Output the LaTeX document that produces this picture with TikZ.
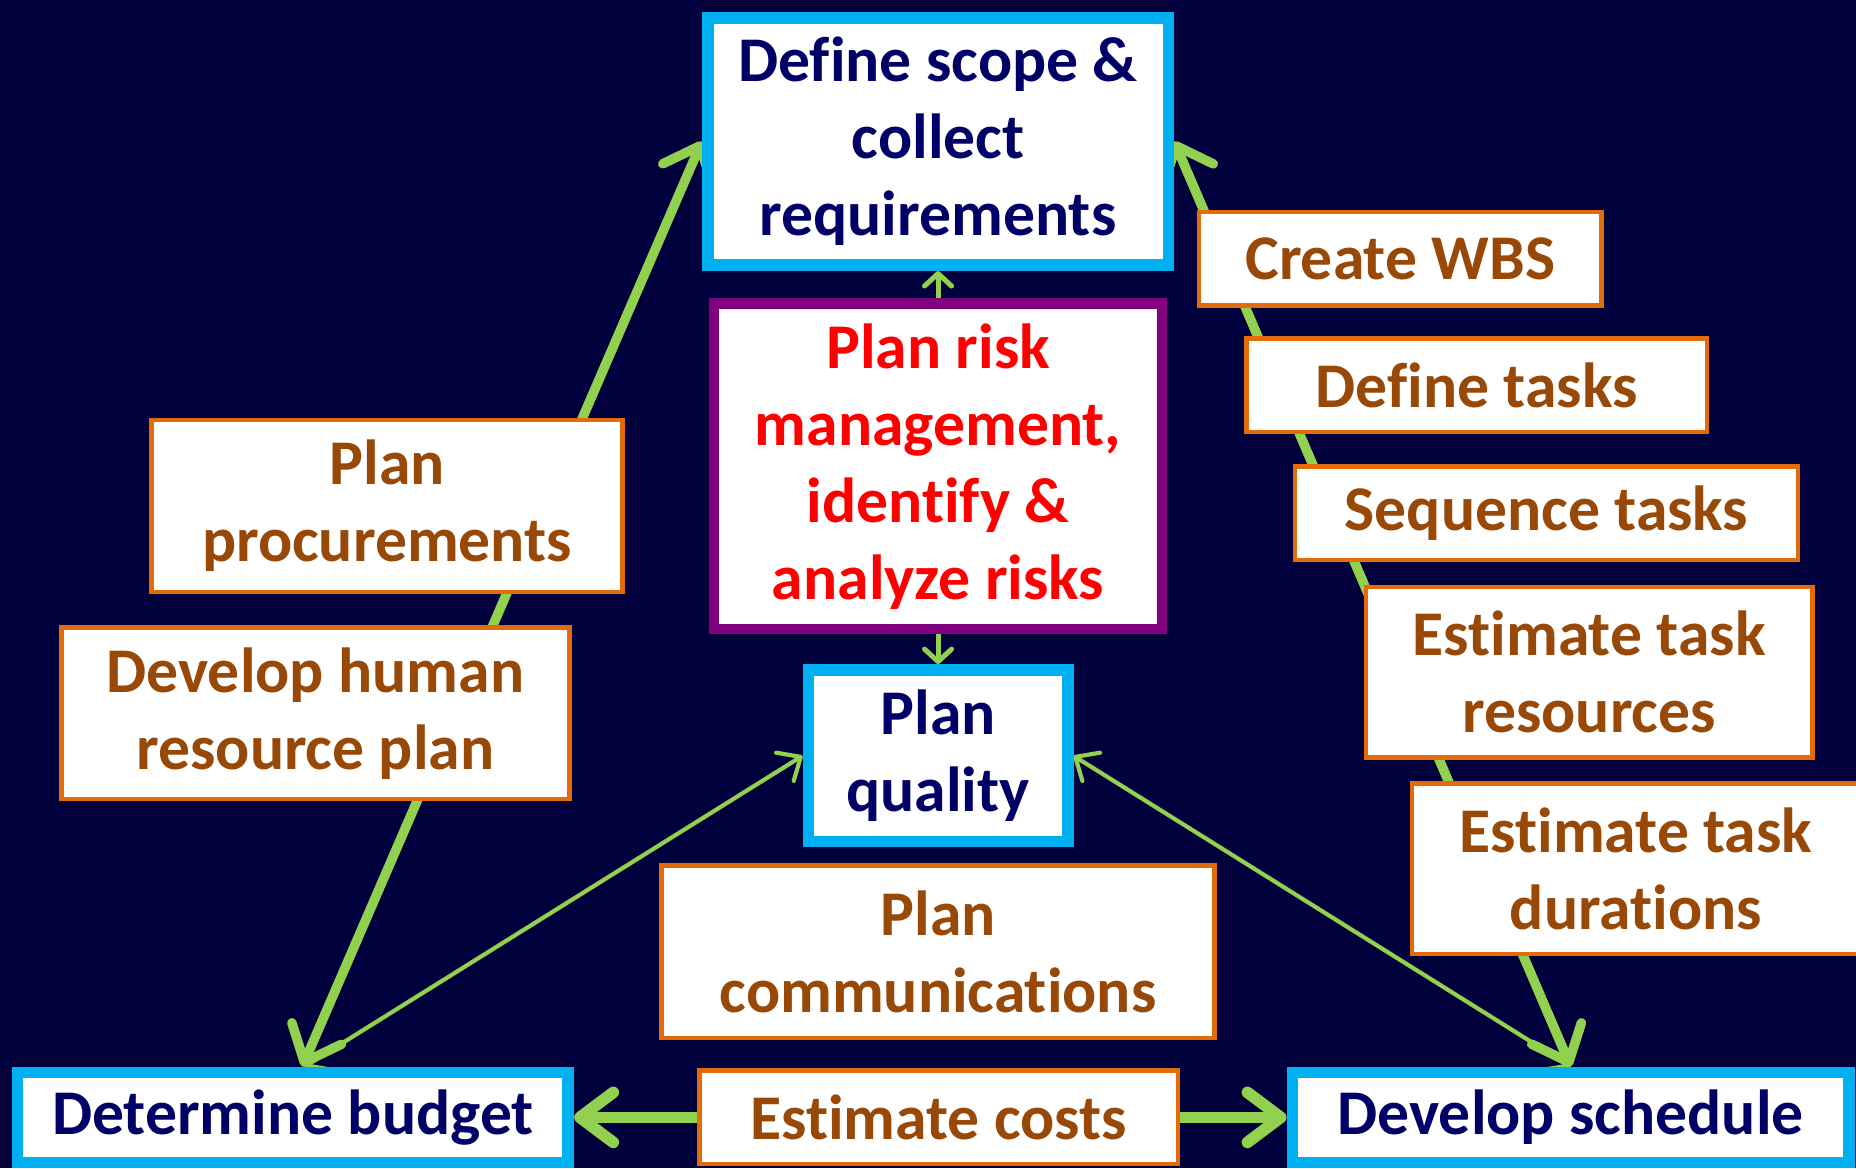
\documentclass[tikz,border=0pt]{standalone}
\usepackage{fontspec}
\setmainfont{Carlito}[Ligatures=NoCommon]
\usetikzlibrary{arrows.meta,backgrounds}
\definecolor{bgnavy}{HTML}{00003C}
\definecolor{boxblue}{HTML}{00B0F0}
\definecolor{boxorange}{HTML}{E36C09}
\definecolor{txtbrown}{HTML}{984807}
\definecolor{txtnavy}{HTML}{000066}
\definecolor{riskpurple}{HTML}{800080}
\definecolor{arrowgreen}{HTML}{92D050}
\begin{document}
\begin{tikzpicture}[x=0.01cm, y=-0.01cm,
    every node/.style={font=\fontsize{15.3}{18.5}\selectfont\bfseries, align=center, fill=white, inner sep=0pt},
    keybox/.style={draw=boxblue, line width=2.8pt, text=txtnavy},
    taskbox/.style={draw=boxorange, line width=1.1pt, text=txtbrown},
    riskbox/.style={draw=riskpurple, line width=2.5pt, text=red},
    thicklink/.style={draw=arrowgreen, line width=2.3pt, >={Straight Barb[round, length=7.5pt, width=13pt]}},
    thinlink/.style={draw=arrowgreen, line width=1pt, >={Straight Barb[round, length=4.5pt, width=8pt]}},
    shortlink/.style={draw=arrowgreen, line width=1.2pt, >={Straight Barb[round, length=3pt, width=6.5pt]}},
    widelink/.style={draw=arrowgreen, line width=2.8pt, >={Straight Barb[round, length=8pt, width=12pt]}}]
\useasboundingbox (0,0) rectangle (1568,987);
\clip (0,0) rectangle (1568,987);
\node[keybox, minimum width=3.89cm, minimum height=2.09cm] (scope) at (792.5,119.5) {Define scope \&\\collect\\requirements};
\node[riskbox, minimum width=3.78cm, minimum height=2.75cm] (risk) at (792.5,394) {Plan risk\\management,\\identify \&\\analyze risks};
\node[keybox, minimum width=2.19cm, minimum height=1.45cm] (quality) at (792.5,638.5) {Plan\\quality};
\node[taskbox, minimum width=4.67cm, minimum height=1.46cm] (comms) at (792.5,804) {Plan\\communications};
\node[keybox, minimum width=4.65cm, minimum height=0.76cm] (budget) at (247.5,944) {Determine budget};
\node[taskbox, minimum width=4.04cm, minimum height=0.79cm] (costs) at (793,944) {Estimate costs};
\node[keybox, minimum width=4.70cm, minimum height=0.76cm] (schedule) at (1327,944) {Develop schedule};
\node[taskbox, minimum width=3.98cm, minimum height=1.45cm] (procure) at (327,427.5) {Plan\\procurements};
\node[taskbox, minimum width=4.29cm, minimum height=1.45cm] (hr) at (266.5,602.5) {Develop human\\resource plan};
\node[taskbox, minimum width=3.40cm, minimum height=0.79cm] (wbs) at (1183,218.5) {Create WBS};
\node[taskbox, minimum width=3.89cm, minimum height=0.79cm] (deftasks) at (1247.5,325.5) {Define tasks};
\node[taskbox, minimum width=4.25cm, minimum height=0.79cm] (seqtasks) at (1306.5,433.5) {Sequence tasks};
\node[taskbox, minimum width=3.77cm, minimum height=1.44cm] (estres) at (1342.5,568) {Estimate task\\resources};
\node[taskbox, minimum width=3.78cm, minimum height=1.44cm] (estdur) at (1382,734) {Estimate task\\durations};
\begin{scope}[on background layer]
\fill[bgnavy] (0,0) rectangle (1568,987);
\draw[thicklink, <->] ([xshift=0.08cm]budget.north) -- (scope.west);
\draw[thicklink, <->] (schedule.north) -- (scope.east);
\draw[thinlink, <->] ([xshift=0.1cm]budget.north) -- (quality.west);
\draw[thinlink, <->] (quality.east) -- (schedule.north);
\draw[shortlink, ->] (risk.north) -- (scope.south);
\draw[shortlink, ->] (risk.south) -- (quality.north);
\draw[widelink, ->] (costs.west) -- (budget.east);
\draw[widelink, ->] (costs.east) -- (schedule.west);
\end{scope}
\end{tikzpicture}
\end{document}
